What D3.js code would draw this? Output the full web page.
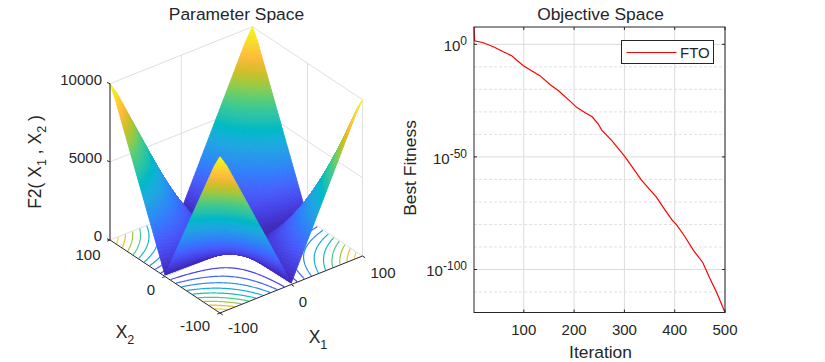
<!DOCTYPE html>
<html><head><meta charset="utf-8">
<script src="https://cdn.jsdelivr.net/npm/d3@7"></script>
<style>
html,body{margin:0;padding:0;background:#fff}
svg{display:block}
text{font-family:"Liberation Sans",Arial,sans-serif;fill:#262626}
</style></head><body>
<svg id="c" width="825" height="362"></svg>
<script>
// ---------- data ----------
const magnitudes = [0,10,20,30,40,50,60,70,80,90,100];
const surfaceZ = [
 [0,10,20,30,40,50,60,70,80,90,100],
 [10,120,230,340,450,560,670,780,890,1000,1110],
 [20,230,440,650,860,1070,1280,1490,1700,1910,2120],
 [30,340,650,960,1270,1580,1890,2200,2510,2820,3130],
 [40,450,860,1270,1680,2090,2500,2910,3320,3730,4140],
 [50,560,1070,1580,2090,2600,3110,3620,4130,4640,5150],
 [60,670,1280,1890,2500,3110,3720,4330,4940,5550,6160],
 [70,780,1490,2200,2910,3620,4330,5040,5750,6460,7170],
 [80,890,1700,2510,3320,4130,4940,5750,6560,7370,8180],
 [90,1000,1910,2820,3730,4640,5550,6460,7370,8280,9190],
 [100,1110,2120,3130,4140,5150,6160,7170,8180,9190,10000]
];
const contourLevels = [1000,2000,3000,4000,5000,6000,7000,8000,9000];
const parulaIdx = [0,3,6,9,12,15,18,21,24,27,29,30,33,36,39,42,45,48,51,53,54,57,60,63];
const parulaHex = ["#3e26a8","#4332cb","#4741e5","#4852f4","#4563fd","#3875fe","#2d87f7","#2796eb","#20a5e3","#12b1d6","#01b8ca","#02bac3","#24c1ae","#37c897","#57cc7a","#81cc59","#abc739","#d1bf27","#efba36","#febd3c","#fec338","#f9d62d","#f5e924","#f9fb14"];
const xyTicks = [-100,0,100];
const zTicks = [0,5000,10000];
const iterations = [1,2.3,19.6,39.4,59.3,75.9,99,132,152,169,192,205,222,236,248,255,275,301,334,364,381,395,403,418.5,437,456,470,483,500];
const bestLog10 = [7.7,1.6,0.7,-1.05,-3.3,-5.05,-9.5,-13.9,-17.8,-20.6,-25.2,-28,-30.4,-32.2,-35.4,-38.1,-42.8,-49.9,-60.3,-68,-73.6,-78.1,-80,-84.8,-91.4,-97,-104,-110,-119.1];
const iterTicks = [100,200,300,400,500];
const majorExp = [0,-50,-100];
const minorExp = [-10,-20,-30,-40,-60,-70,-80,-90,-110];

const svg = d3.select("#c");
const INK = "#262626";

// ---------- left: 3-D panel ----------
const FRONT=[220,313], RIGHT=[362.5,256], LEFT=[110,240];
const sx = d3.scaleLinear().domain([-100,100]).range([0,1]);
const sy = d3.scaleLinear().domain([-100,100]).range([0,1]);
const sz = d3.scaleLinear().domain([0,10000]).range([0,-156.3]);
function proj(x,y,z){
  const u=sx(x), v=sy(y);
  return [FRONT[0]+u*(RIGHT[0]-FRONT[0])+v*(LEFT[0]-FRONT[0]),
          FRONT[1]+u*(RIGHT[1]-FRONT[1])+v*(LEFT[1]-FRONT[1])+sz(z)];
}
const parula = d3.scaleLinear()
  .domain(parulaIdx.map(i=>i/63*10000))
  .range(parulaHex).clamp(true).interpolate(d3.interpolateRgb);

function zAt(x,y){ // sample the table over a patch, as shaded surfaces do
  const a=Math.abs(x)/10, b=Math.abs(y)/10;
  const i=Math.min(Math.floor(a),9), j=Math.min(Math.floor(b),9);
  const f=a-i, g=b-j;
  return (1-f)*(1-g)*surfaceZ[i][j]+f*(1-g)*surfaceZ[i+1][j]+(1-f)*g*surfaceZ[i][j+1]+f*g*surfaceZ[i+1][j+1];
}
const line3 = d3.line();
const g3 = svg.append("g");
// back walls grid
const wall = g3.append("g").attr("fill","none").attr("stroke","#dfdfdf").attr("stroke-width",1);
zTicks.forEach(z=>{
  wall.append("path").attr("d",line3([proj(-100,100,z),proj(100,100,z),proj(100,-100,z)]));
});
xyTicks.forEach(t=>{
  wall.append("path").attr("d",line3([proj(t,100,0),proj(t,100,10000)]));
  wall.append("path").attr("d",line3([proj(100,t,0),proj(100,t,10000)]));
});
[0].forEach(t=>{
  wall.append("path").attr("d",line3([proj(t,-100,0),proj(t,100,0)]));
  wall.append("path").attr("d",line3([proj(-100,t,0),proj(100,t,0)]));
});

// floor contours
const N=201;
const field=new Array(N*N);
for(let j=0;j<N;j++)for(let i=0;i<N;i++) field[j*N+i]=zAt(-100+i,-100+j);
const contours=d3.contours().size([N,N]).smooth(true).thresholds(contourLevels)(field);
const cg=g3.append("g").attr("fill","none").attr("stroke-width",1.2);
contours.forEach(c=>{
  let d="";
  c.coordinates.forEach(poly=>poly.forEach(ring=>{
    let pen=false;
    for(let k=0;k<ring.length;k++){
      const gx=ring[k][0]-0.5-100, gy=ring[k][1]-0.5-100;
      const inside=Math.abs(gx)<99.9 && Math.abs(gy)<99.9;
      if(inside){const p=proj(gx,gy,0); d+=(pen?"L":"M")+p[0].toFixed(2)+","+p[1].toFixed(2); pen=true;}
      else pen=false;
    }
  }));
  cg.append("path").attr("d",d).attr("stroke",parula(c.value));
});

// surface, painted back to front
const STEP=2, cells=[];
for(let x=100;x>-100;x-=STEP)for(let y=100;y>-100;y-=STEP){
  const pts=[[x,y],[x-STEP,y],[x-STEP,y-STEP],[x,y-STEP]].map(q=>({x:q[0],y:q[1],z:zAt(q[0],q[1])}));
  cells.push(pts);
}
g3.append("g").selectAll("path").data(cells).join("path")
  .attr("d",c=>line3(c.map(p=>proj(p.x,p.y,p.z)))+"Z")
  .attr("fill",c=>parula(d3.mean(c,p=>p.z)))
  .attr("stroke",c=>parula(d3.mean(c,p=>p.z)))
  .attr("stroke-width",0.9)
  .attr("stroke-linejoin","round");

// axes lines
const ax=g3.append("g").attr("fill","none").attr("stroke",INK).attr("stroke-width",1);
ax.append("path").attr("d",line3([proj(-100,100,0),proj(-100,100,10000)]));
ax.append("path").attr("d",line3([proj(-100,100,0),proj(-100,-100,0),proj(100,-100,0)]));
zTicks.forEach(z=>{const p=proj(-100,100,z); ax.append("path").attr("d",line3([p,[p[0]-3,p[1]-1.2]]));});
xyTicks.forEach(t=>{
  const a=proj(t,-100,0); ax.append("path").attr("d",line3([a,[a[0]+2.7,a[1]+1.8]]));
  const b=proj(-100,t,0); ax.append("path").attr("d",line3([b,[b[0]-2.7,b[1]+1.1]]));
});
// 3-D tick labels
const lab=g3.append("g").attr("font-size",15);
zTicks.forEach(z=>{const p=proj(-100,100,z);
  lab.append("text").attr("x",102).attr("y",p[1]+1).attr("text-anchor","end").text(z);});
const x1Pos={"-100":[243,333],"0":[303,307],"100":[383,278]};
const x2Pos={"-100":[195,331],"0":[151,295],"100":[88,260]};
xyTicks.forEach(t=>{
  lab.append("text").attr("x",x1Pos[t][0]).attr("y",x1Pos[t][1]).attr("text-anchor","middle").text(t);
  lab.append("text").attr("x",x2Pos[t][0]).attr("y",x2Pos[t][1]).attr("text-anchor","middle").text(t);
});
function subLabel(sel,x,y,base,sub,size){
  const t=sel.append("text").attr("x",x).attr("y",y).attr("font-size",size).attr("text-anchor","middle");
  t.append("tspan").text(base);
  t.append("tspan").attr("font-size",size*0.72).attr("dy",size*0.35).text(sub);
}
subLabel(g3,125,338,"X","2",17.5);
subLabel(g3,318,343,"X","1",17.5);
const fl=g3.append("text").attr("font-size",17.5).attr("text-anchor","middle")
  .attr("transform","translate(41,162) rotate(-90)");
fl.append("tspan").text("F2( X");
fl.append("tspan").attr("font-size",12.5).attr("dy",5).text("1");
fl.append("tspan").attr("dy",-5).text(" , X");
fl.append("tspan").attr("font-size",12.5).attr("dy",5).text("2");
fl.append("tspan").attr("dy",-5).text(" )");
g3.append("text").attr("x",236.5).attr("y",20).attr("text-anchor","middle").attr("font-size",17.4).text("Parameter Space");

// ---------- right: convergence panel ----------
const L=474,R=725,T=27,B=312.5;
const x=d3.scaleLinear().domain([1,500]).range([L,R]);
const y=d3.scaleLinear().domain([7.7,-119.1]).range([T,B]);
const gr=svg.append("g");
const grid=gr.append("g").attr("fill","none");
minorExp.forEach(e=>grid.append("line").attr("x1",L).attr("x2",R).attr("y1",y(e)).attr("y2",y(e))
  .attr("stroke","#e0e0e0").attr("stroke-dasharray","3,2"));
majorExp.forEach(e=>grid.append("line").attr("x1",L).attr("x2",R).attr("y1",y(e)).attr("y2",y(e)).attr("stroke","#dcdcdc"));
iterTicks.forEach(t=>grid.append("line").attr("x1",x(t)).attr("x2",x(t)).attr("y1",T).attr("y2",B).attr("stroke","#dcdcdc"));
gr.append("path").datum(d3.zip(iterations,bestLog10)).attr("fill","none").attr("stroke","#ff0000").attr("stroke-width",1.2)
  .attr("d",d3.line().x(d=>x(d[0])).y(d=>y(d[1])));
gr.append("rect").attr("x",L).attr("y",T).attr("width",R-L).attr("height",B-T).attr("fill","none").attr("stroke",INK);
iterTicks.forEach(t=>{
  gr.append("line").attr("x1",x(t)).attr("x2",x(t)).attr("y1",B).attr("y2",B-3).attr("stroke",INK);
  gr.append("line").attr("x1",x(t)).attr("x2",x(t)).attr("y1",T).attr("y2",T+3).attr("stroke",INK);
  gr.append("text").attr("x",x(t)).attr("y",335).attr("text-anchor","middle").attr("font-size",15).text(t);
});
majorExp.forEach(e=>{
  gr.append("line").attr("x1",L).attr("x2",L+3).attr("y1",y(e)).attr("y2",y(e)).attr("stroke",INK);
  gr.append("line").attr("x1",R).attr("x2",R-3).attr("y1",y(e)).attr("y2",y(e)).attr("stroke",INK);
  const t=gr.append("text").attr("x",467).attr("y",y(e)+7).attr("text-anchor","end").attr("font-size",15);
  t.append("tspan").text("10");
  t.append("tspan").attr("font-size",12).attr("dy",-6).text(e);
});
gr.append("text").attr("x",600.5).attr("y",358).attr("text-anchor","middle").attr("font-size",17.4).text("Iteration");
gr.append("text").attr("transform","translate(416,168) rotate(-90)").attr("text-anchor","middle").attr("font-size",17.4).text("Best Fitness");
gr.append("text").attr("x",600.5).attr("y",20).attr("text-anchor","middle").attr("font-size",17.4).text("Objective Space");
// legend
gr.append("rect").attr("x",621.5).attr("y",40.5).attr("width",92).attr("height",23).attr("fill","#fff").attr("stroke",INK);
gr.append("line").attr("x1",626.5).attr("x2",676.5).attr("y1",52.5).attr("y2",52.5).attr("stroke","#ff0000").attr("stroke-width",1.2);
gr.append("text").attr("x",680).attr("y",58).attr("font-size",15).text("FTO");
</script>
</body></html>
